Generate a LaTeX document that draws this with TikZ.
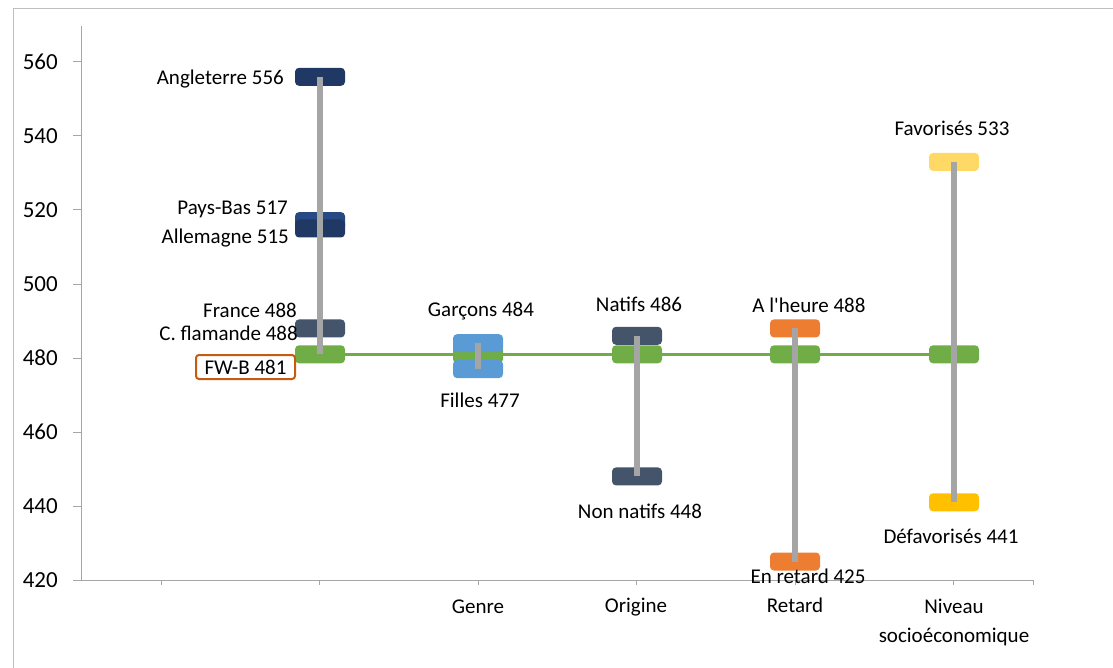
\documentclass[tikz,border=0pt]{standalone}
\usepackage{fontspec}
\setmainfont{Carlito}
\usetikzlibrary{backgrounds}
\definecolor{frameGray}{HTML}{BFBFBF}
\definecolor{axisGray}{HTML}{A6A6A6}
\definecolor{barGray}{HTML}{A5A5A5}
\definecolor{cNavy}{HTML}{1F3864}
\definecolor{cNavyL}{HTML}{284A84}
\definecolor{cSlate}{HTML}{44546A}
\definecolor{cGreen}{HTML}{70AD47}
\definecolor{cBlue}{HTML}{5B9BD5}
\definecolor{cOrange}{HTML}{ED7D31}
\definecolor{cYellowL}{HTML}{FFD966}
\definecolor{cGold}{HTML}{FFC000}
\definecolor{cFWB}{HTML}{C55A11}
\begin{document}
\begin{tikzpicture}[x=1pt,y=-1pt,
  mk/.style={rounded corners=4pt, minimum width=50pt, minimum height=18pt, inner sep=0pt, draw=none},
  lbl/.style={inner sep=0pt, font=\fontsize{21}{25}\selectfont},
  axlbl/.style={inner sep=0pt, font=\fontsize{23}{27}\selectfont, anchor=base east},
  bar/.style={line width=6pt, draw=barGray},
  axisline/.style={draw=axisGray, line width=1pt},
  greenline/.style={draw=cGreen, line width=3.5pt}]
\useasboundingbox (0,0) rectangle (1113,668);
% frame
\draw[frameGray, line width=1pt] (13,668) -- (13,9) -- (1113,9);
% axes
\draw[axisline] (81,26) -- (81,580);
\draw[axisline] (73,580) -- (1033,580);
\foreach \i/\t in {0/420,1/440,2/460,3/480,4/500,5/520,6/540,7/560}{
  \draw[axisline] (73,580-74*\i) -- (81,580-74*\i);
  \node[axlbl] (y\t) at (58,587.5-74*\i) {\t};
}
\foreach \x in {161,319.5,478,636.5,795,953.5,1033}{
  \draw[axisline] (\x,580) -- (\x,585);
}
% category labels
\node[lbl, anchor=base] (cGenre) at (478,613) {Genre};
\node[lbl, anchor=base] (cOrig) at (636,612) {Origine};
\node[lbl, anchor=base] (cRet) at (795,612) {Retard};
\node[lbl, anchor=north, align=center, font=\fontsize{21}{29}\selectfont] (cNiv) at (954,598.5) {Niveau\\socioéconomique};
% green (FW-B mean) markers
\node[mk, fill=cGreen] (g1) at (320,354.3) {};
\node[mk, fill=cGreen] (g2) at (478,354.3) {};
\node[mk, fill=cGreen] (g3) at (637,354.3) {};
\node[mk, fill=cGreen] (g4) at (795,354.3) {};
\node[mk, fill=cGreen] (g5) at (954,354.3) {};
\begin{pgfonlayer}{background}
  \draw[greenline] (g1.center) -- (g5.center);
\end{pgfonlayer}
% other markers
\node[mk, fill=cNavy] (ang) at (320,76.8) {};
\node[mk, fill=cNavyL] (pb) at (320,221.1) {};
\node[mk, fill=cNavy] (all) at (320,228.5) {};
\node[mk, fill=cSlate] (fr) at (320,328.4) {};
\node[mk, fill=cBlue] (gar) at (478,343.2) {};
\node[mk, fill=cBlue] (fil) at (478,369.1) {};
\node[mk, fill=cSlate] (nat) at (637,335.8) {};
\node[mk, fill=cSlate] (nnat) at (637,476.4) {};
\node[mk, fill=cOrange] (heure) at (795,328.4) {};
\node[mk, fill=cOrange] (ret) at (795,561.5) {};
\node[mk, fill=cYellowL] (fav) at (954,161.9) {};
\node[mk, fill=cGold] (defav) at (954,502.3) {};
% gray range bars
\draw[bar] (ang.center) -- (g1.center);
\draw[bar] (gar.center) -- (fil.center);
\draw[bar] (nat.center) -- (nnat.center);
\draw[bar] (heure.center) -- (ret.center);
\draw[bar] (fav.center) -- (defav.center);
% labels
\node[lbl, anchor=base east] (lAng) at (284,85) {Angleterre 556};
\node[lbl, anchor=base east] (lPB) at (288,215) {Pays-Bas 517};
\node[lbl, anchor=base east] (lAll) at (289,244) {Allemagne 515};
\node[lbl, anchor=base east] (lFr) at (297,317) {France 488};
\node[lbl, anchor=base east] (lCf) at (298,340) {C. flamande 488};
\node[lbl, draw=cFWB, line width=2pt, rounded corners=3pt, minimum width=99pt, minimum height=24pt] (fwb) at (245.5,367) {FW-B 481};
\node[lbl, anchor=base] (lGar) at (481,316) {Garçons 484};
\node[lbl, anchor=base] (lFil) at (480,407) {Filles 477};
\node[lbl, anchor=base] (lNat) at (639,311) {Natifs 486};
\node[lbl, anchor=base] (lNnat) at (640,518) {Non natifs 448};
\node[lbl, anchor=base] (lHeure) at (809,312) {A l\textquotesingle heure 488};
\node[lbl, anchor=base] (lRet) at (808,583) {En retard 425};
\node[lbl, anchor=base] (lFav) at (952,136) {Favorisés 533};
\node[lbl, anchor=base] (lDefav) at (951,543) {Défavorisés 441};
\end{tikzpicture}
\end{document}
